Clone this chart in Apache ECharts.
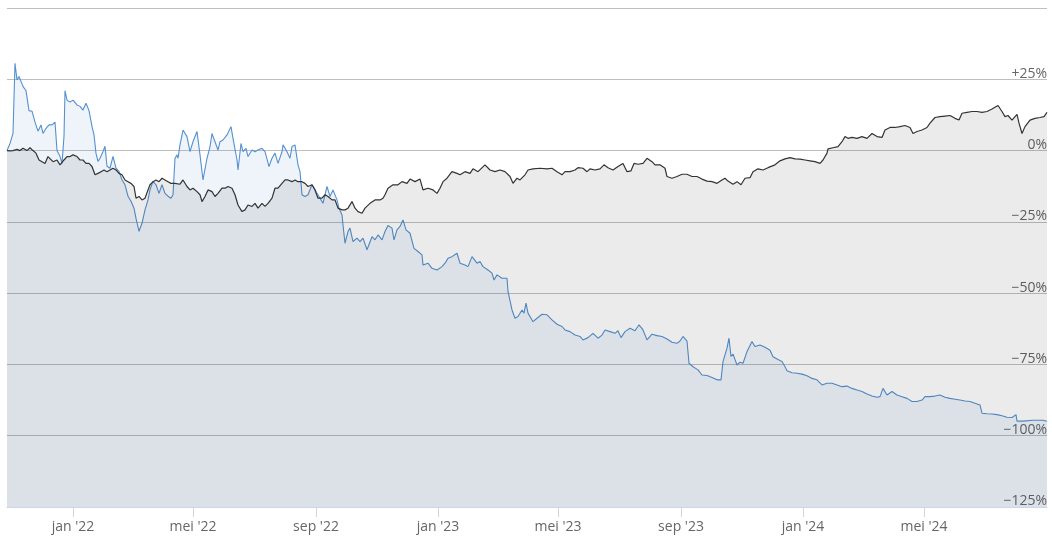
<!DOCTYPE html>
<html>
<head>
<meta charset="utf-8">
<script src="https://cdn.jsdelivr.net/npm/echarts@6/dist/echarts.min.js"></script>
<style>
  html, body { margin: 0; padding: 0; background: #fff; }
  #main { width: 1052px; height: 543px; }
</style>
</head>
<body>
<div id="main"></div>
<script>
// x-axis tick dates and their labels
const tickDates = ['2022-01-01', '2022-05-01', '2022-09-01', '2023-01-01', '2023-05-01', '2023-09-01', '2024-01-01', '2024-05-01'];
const tickLabels = ["jan '22", "mei '22", "sep '22", "jan '23", "mei '23", "sep '23", "jan '24", "mei '24"];
const dateRange = ['2021-10-27', '2024-09-01'];

// y-axis ticks (percent)
const yTicks = [50, 25, 0, -25, -50, -75, -100, -125];

// benchmark (dark line), relative return in %
const indexSeries = [
  ['2021-10-27', 0], ['2021-10-30', -0.1], ['2021-11-02', 0], ['2021-11-06', 0.4], ['2021-11-09', 0],
  ['2021-11-12', 0.8], ['2021-11-16', 0], ['2021-11-19', 1], ['2021-11-22', 0], ['2021-11-25', -0.9],
  ['2021-11-28', -3.3], ['2021-12-01', -3.9], ['2021-12-04', -4.5], ['2021-12-07', -2.1], ['2021-12-09', -1.5],
  ['2021-12-12', -3.9], ['2021-12-16', -3.3], ['2021-12-19', -5], ['2021-12-21', -5.6], ['2021-12-23', -3.3],
  ['2021-12-26', -2.1], ['2021-12-29', -2.1], ['2022-01-01', -1.5], ['2022-01-05', -2.1], ['2022-01-08', -3.3],
  ['2022-01-11', -3.3], ['2022-01-14', -4.5], ['2022-01-17', -4.5], ['2022-01-20', -5.6], ['2022-01-23', -8.5],
  ['2022-01-26', -8], ['2022-01-29', -7.4], ['2022-02-01', -6.8], ['2022-02-04', -7.4], ['2022-02-07', -6.8],
  ['2022-02-10', -6.2], ['2022-02-13', -6.8], ['2022-02-16', -8], ['2022-02-19', -8.5], ['2022-02-22', -10.3],
  ['2022-02-25', -10.9], ['2022-02-28', -11.5], ['2022-03-03', -12.6], ['2022-03-05', -16.7], ['2022-03-08', -16.1],
  ['2022-03-11', -17.3], ['2022-03-14', -16.7], ['2022-03-17', -13.8], ['2022-03-19', -12], ['2022-03-22', -10.9],
  ['2022-03-25', -10.3], ['2022-03-28', -10.9], ['2022-03-31', -9.7], ['2022-04-03', -10.3], ['2022-04-06', -10.9],
  ['2022-04-09', -11.5], ['2022-04-13', -11.5], ['2022-04-15', -11.5], ['2022-04-18', -11.8], ['2022-04-21', -10.3],
  ['2022-04-25', -12.6], ['2022-04-28', -13.8], ['2022-05-01', -13.2], ['2022-05-05', -14.4], ['2022-05-08', -15.5],
  ['2022-05-10', -17.9], ['2022-05-13', -16.1], ['2022-05-16', -13.8], ['2022-05-20', -14.4], ['2022-05-23', -16.1],
  ['2022-05-26', -15], ['2022-05-30', -13.2], ['2022-06-02', -13.2], ['2022-06-05', -12.6], ['2022-06-09', -13.2],
  ['2022-06-12', -15.5], ['2022-06-15', -19.1], ['2022-06-19', -21.4], ['2022-06-22', -20.8], ['2022-06-25', -19.1],
  ['2022-06-29', -19.6], ['2022-07-02', -18.5], ['2022-07-05', -20.2], ['2022-07-09', -18.5], ['2022-07-12', -19.6],
  ['2022-07-15', -18.5], ['2022-07-19', -16.7], ['2022-07-22', -13.2], ['2022-07-25', -13.2], ['2022-07-29', -11.5],
  ['2022-08-01', -10.3], ['2022-08-04', -10.3], ['2022-08-08', -10.9], ['2022-08-11', -10.3], ['2022-08-14', -10.9],
  ['2022-08-18', -10.9], ['2022-08-21', -11.5], ['2022-08-24', -12.6], ['2022-08-28', -12], ['2022-08-31', -13.8],
  ['2022-09-03', -16.7], ['2022-09-07', -16.7], ['2022-09-10', -15.5], ['2022-09-13', -16.1], ['2022-09-17', -17.3],
  ['2022-09-20', -17.3], ['2022-09-23', -20.2], ['2022-09-27', -20.8], ['2022-09-30', -20.8], ['2022-10-03', -20.2],
  ['2022-10-07', -17.9], ['2022-10-10', -20.2], ['2022-10-13', -21.4], ['2022-10-17', -22], ['2022-10-20', -20.2],
  ['2022-10-25', -18.5], ['2022-10-30', -17.3], ['2022-11-04', -17.3], ['2022-11-07', -16.7], ['2022-11-09', -15.5],
  ['2022-11-12', -13.2], ['2022-11-17', -12], ['2022-11-22', -12], ['2022-11-26', -10.9], ['2022-12-01', -11.5],
  ['2022-12-04', -10], ['2022-12-09', -10.9], ['2022-12-14', -10], ['2022-12-17', -13.8], ['2022-12-22', -13.2],
  ['2022-12-27', -13.8], ['2022-12-31', -15], ['2023-01-03', -13.2], ['2023-01-06', -10.9], ['2023-01-10', -9.7],
  ['2023-01-15', -7.4], ['2023-01-20', -8], ['2023-01-23', -8.5], ['2023-01-28', -7.4], ['2023-02-02', -8],
  ['2023-02-05', -6.4], ['2023-02-10', -7.4], ['2023-02-17', -5], ['2023-02-22', -6.8], ['2023-02-27', -7.4],
  ['2023-03-04', -6.8], ['2023-03-09', -7.4], ['2023-03-14', -9.1], ['2023-03-17', -11.5], ['2023-03-21', -9.7],
  ['2023-03-24', -10.3], ['2023-03-29', -8.5], ['2023-04-01', -6.8], ['2023-04-06', -6.4], ['2023-04-13', -6.2],
  ['2023-04-20', -6.4], ['2023-04-25', -6.2], ['2023-04-30', -7.4], ['2023-05-05', -8.5], ['2023-05-08', -7.4],
  ['2023-05-13', -7.4], ['2023-05-18', -6.8], ['2023-05-21', -6], ['2023-05-26', -6.2], ['2023-05-30', -7.4],
  ['2023-06-02', -6.4], ['2023-06-07', -6.8], ['2023-06-12', -6.4], ['2023-06-16', -5], ['2023-06-20', -6],
  ['2023-06-25', -6.8], ['2023-06-30', -5.6], ['2023-07-05', -4.5], ['2023-07-09', -7.4], ['2023-07-13', -7.1],
  ['2023-07-16', -4.5], ['2023-07-20', -4.8], ['2023-07-25', -4.5], ['2023-07-29', -2.7], ['2023-08-03', -3.9],
  ['2023-08-06', -5], ['2023-08-11', -5], ['2023-08-16', -6.2], ['2023-08-18', -9.1], ['2023-08-23', -9.7],
  ['2023-08-28', -9.1], ['2023-09-02', -8.3], ['2023-09-07', -8.3], ['2023-09-12', -9.1], ['2023-09-17', -9.1],
  ['2023-09-22', -10], ['2023-09-27', -10.7], ['2023-10-02', -10.9], ['2023-10-07', -11.5], ['2023-10-12', -10.3],
  ['2023-10-15', -9.7], ['2023-10-18', -10.7], ['2023-10-23', -11.8], ['2023-10-27', -10.9], ['2023-10-31', -12],
  ['2023-11-04', -9.7], ['2023-11-09', -9.5], ['2023-11-12', -7.4], ['2023-11-17', -6.4], ['2023-11-22', -6.8],
  ['2023-11-27', -6], ['2023-11-29', -5.3], ['2023-12-04', -5], ['2023-12-09', -3.6], ['2023-12-14', -2.9],
  ['2023-12-19', -2.5], ['2023-12-24', -2.9], ['2023-12-29', -3], ['2024-01-03', -3.3], ['2024-01-08', -3.6],
  ['2024-01-13', -3.9], ['2024-01-18', -4.5], ['2024-01-21', -3.3], ['2024-01-25', -0.9], ['2024-01-26', 0.6],
  ['2024-01-31', 1], ['2024-02-05', 1.4], ['2024-02-09', 3.1], ['2024-02-12', 4.9], ['2024-02-15', 4.3],
  ['2024-02-19', 4.6], ['2024-02-24', 4.3], ['2024-02-29', 4.9], ['2024-03-05', 4.3], ['2024-03-10', 6],
  ['2024-03-15', 4.9], ['2024-03-20', 4.6], ['2024-03-23', 7.2], ['2024-03-28', 8.1], ['2024-04-02', 8.1],
  ['2024-04-07', 8.4], ['2024-04-12', 8.8], ['2024-04-17', 8.1], ['2024-04-20', 6], ['2024-04-24', 6.7],
  ['2024-04-29', 7.2], ['2024-05-04', 8.1], ['2024-05-07', 9.6], ['2024-05-12', 11.6], ['2024-05-17', 11.9],
  ['2024-05-22', 12.1], ['2024-05-27', 12.3], ['2024-06-01', 11.3], ['2024-06-05', 10.7], ['2024-06-08', 13.1],
  ['2024-06-13', 13.4], ['2024-06-18', 13.7], ['2024-06-23', 13.7], ['2024-06-28', 13.4], ['2024-07-03', 13.7],
  ['2024-07-08', 14.6], ['2024-07-14', 15.8], ['2024-07-18', 13.7], ['2024-07-21', 11.9], ['2024-07-24', 12.3],
  ['2024-07-28', 10.7], ['2024-08-02', 12.7], ['2024-08-04', 9.6], ['2024-08-07', 6], ['2024-08-10', 8.4],
  ['2024-08-15', 10.7], ['2024-08-20', 11.3], ['2024-08-25', 11.6], ['2024-08-29', 11.9], ['2024-09-01', 13.4]
];

// fund (blue line), relative return in %
const fundSeries = [
  ['2021-10-27', 0], ['2021-10-30', 2.5], ['2021-11-02', 6], ['2021-11-04', 30.6], ['2021-11-06', 24.8],
  ['2021-11-08', 26], ['2021-11-10', 26], ['2021-11-12', 22.5], ['2021-11-15', 21], ['2021-11-18', 14],
  ['2021-11-21', 13.8], ['2021-11-24', 10], ['2021-11-27', 6.8], ['2021-11-30', 9], ['2021-12-02', 6],
  ['2021-12-05', 7.8], ['2021-12-08', 9], ['2021-12-11', 9], ['2021-12-14', 10], ['2021-12-16', 0],
  ['2021-12-19', -2], ['2021-12-21', -4.5], ['2021-12-23', 5], ['2021-12-24', 21], ['2021-12-26', 17.7],
  ['2021-12-29', 17], ['2022-01-01', 17.7], ['2022-01-05', 16], ['2022-01-08', 15.5], ['2022-01-11', 14.2],
  ['2022-01-14', 16.6], ['2022-01-17', 14], ['2022-01-20', 8.5], ['2022-01-22', 5.5], ['2022-01-24', -1],
  ['2022-01-26', -3.8], ['2022-01-28', -2.7], ['2022-01-31', -0.3], ['2022-02-02', 1.5], ['2022-02-04', -5.5],
  ['2022-02-07', -6.2], ['2022-02-10', -2], ['2022-02-13', -6.2], ['2022-02-16', -7.3], ['2022-02-19', -10.3],
  ['2022-02-22', -12], ['2022-02-25', -16], ['2022-02-28', -17.8], ['2022-03-03', -20.2], ['2022-03-05', -23.8],
  ['2022-03-08', -28.3], ['2022-03-11', -25.5], ['2022-03-14', -20.8], ['2022-03-17', -17.3], ['2022-03-19', -13.8],
  ['2022-03-22', -10.8], ['2022-03-25', -12], ['2022-03-28', -15], ['2022-03-31', -12], ['2022-04-03', -15],
  ['2022-04-06', -16], ['2022-04-09', -16.7], ['2022-04-11', -15.5], ['2022-04-13', -2.7], ['2022-04-15', -1.5],
  ['2022-04-16', -2.7], ['2022-04-18', 2], ['2022-04-21', 7.2], ['2022-04-25', 4.9], ['2022-04-28', -0.4],
  ['2022-05-01', 3.1], ['2022-05-05', 6.7], ['2022-05-08', -1.5], ['2022-05-11', -10.3], ['2022-05-15', -2.7],
  ['2022-05-18', 1.4], ['2022-05-20', 6], ['2022-05-23', 3.1], ['2022-05-26', 0.2], ['2022-05-28', 3.1],
  ['2022-05-31', 3.7], ['2022-06-04', 5.5], ['2022-06-08', 8.4], ['2022-06-10', 4.3], ['2022-06-14', -3.3],
  ['2022-06-15', -6.8], ['2022-06-18', 2.5], ['2022-06-20', -0.4], ['2022-06-23', 0.8], ['2022-06-25', -2.1],
  ['2022-06-29', 0.2], ['2022-07-02', -0.4], ['2022-07-05', 0.2], ['2022-07-09', 0.8], ['2022-07-12', -0.4],
  ['2022-07-16', -5.6], ['2022-07-19', -2.7], ['2022-07-22', -0.9], ['2022-07-25', -4.5], ['2022-07-29', -0.4],
  ['2022-07-30', 2], ['2022-08-03', -0.4], ['2022-08-06', -2.7], ['2022-08-08', 1.4], ['2022-08-11', 2],
  ['2022-08-14', -5], ['2022-08-16', -7.4], ['2022-08-18', -15.5], ['2022-08-21', -16.1], ['2022-08-24', -15.5],
  ['2022-08-28', -12], ['2022-09-02', -15], ['2022-09-05', -16.7], ['2022-09-08', -18.5], ['2022-09-12', -12.6],
  ['2022-09-15', -16.1], ['2022-09-18', -13.8], ['2022-09-22', -17.3], ['2022-09-24', -20.2], ['2022-09-27', -22.6],
  ['2022-09-28', -26.1], ['2022-09-30', -32.5], ['2022-10-03', -28.4], ['2022-10-05', -27.2], ['2022-10-08', -31.9],
  ['2022-10-12', -30.7], ['2022-10-15', -31.9], ['2022-10-18', -30.7], ['2022-10-22', -34.8], ['2022-10-27', -30.2],
  ['2022-10-30', -31.3], ['2022-11-02', -29.6], ['2022-11-06', -31.3], ['2022-11-09', -28.4], ['2022-11-12', -26.3],
  ['2022-11-16', -27.2], ['2022-11-18', -31.3], ['2022-11-21', -27.8], ['2022-11-24', -26.6], ['2022-11-27', -24.3],
  ['2022-11-30', -27.8], ['2022-12-04', -29], ['2022-12-08', -34.3], ['2022-12-12', -35.4], ['2022-12-16', -36.6],
  ['2022-12-17', -40.1], ['2022-12-22', -39.5], ['2022-12-26', -41.3], ['2022-12-31', -41.9], ['2023-01-05', -40.7],
  ['2023-01-08', -39.5], ['2023-01-11', -37.8], ['2023-01-15', -37.2], ['2023-01-20', -36], ['2023-01-23', -39.5],
  ['2023-01-28', -40.1], ['2023-01-31', -40.7], ['2023-02-04', -37.2], ['2023-02-09', -39.5], ['2023-02-12', -38.9],
  ['2023-02-15', -40.7], ['2023-02-20', -41.9], ['2023-02-24', -43], ['2023-02-26', -45.4], ['2023-03-01', -43.6],
  ['2023-03-06', -44.8], ['2023-03-11', -44.8], ['2023-03-12', -49.4], ['2023-03-16', -55.9], ['2023-03-19', -58.8],
  ['2023-03-22', -58.2], ['2023-03-26', -55.9], ['2023-03-28', -57], ['2023-03-30', -53.5], ['2023-04-01', -57],
  ['2023-04-06', -60], ['2023-04-10', -58.8], ['2023-04-15', -57.4], ['2023-04-20', -57.6], ['2023-04-25', -59.4],
  ['2023-04-30', -60.9], ['2023-05-05', -61.7], ['2023-05-08', -62.9], ['2023-05-13', -63.5], ['2023-05-18', -64.7],
  ['2023-05-23', -65.2], ['2023-05-26', -66.4], ['2023-05-31', -65.6], ['2023-06-05', -64.1], ['2023-06-10', -65.8],
  ['2023-06-14', -64.7], ['2023-06-17', -62.9], ['2023-06-22', -63.5], ['2023-06-27', -64.1], ['2023-06-30', -63.2],
  ['2023-07-03', -65.6], ['2023-07-07', -63.5], ['2023-07-12', -62.3], ['2023-07-17', -63.2], ['2023-07-21', -61.1],
  ['2023-07-25', -62.9], ['2023-07-29', -66.4], ['2023-08-03', -64.4], ['2023-08-08', -64.9], ['2023-08-13', -65.2],
  ['2023-08-18', -66.1], ['2023-08-23', -67.2], ['2023-08-28', -67.6], ['2023-08-31', -66.8], ['2023-09-03', -65.2],
  ['2023-09-07', -66.8], ['2023-09-09', -74.6], ['2023-09-13', -75.8], ['2023-09-18', -76.9], ['2023-09-22', -78.7],
  ['2023-09-27', -78.9], ['2023-10-02', -79.6], ['2023-10-07', -80.4], ['2023-10-11', -80.4], ['2023-10-13', -74],
  ['2023-10-17', -69.3], ['2023-10-19', -65.8], ['2023-10-21', -72.2], ['2023-10-23', -71.4], ['2023-10-27', -75.2],
  ['2023-10-30', -74.2], ['2023-11-02', -74.6], ['2023-11-06', -70.5], ['2023-11-11', -67], ['2023-11-14', -68.7],
  ['2023-11-19', -68.2], ['2023-11-24', -69], ['2023-11-29', -70], ['2023-12-02', -72.3], ['2023-12-07', -73.3],
  ['2023-12-11', -74], ['2023-12-14', -75.8], ['2023-12-16', -77.2], ['2023-12-21', -77.9], ['2023-12-26', -78.1],
  ['2023-12-31', -78.4], ['2024-01-05', -79], ['2024-01-10', -79.9], ['2024-01-15', -80.4], ['2024-01-20', -82.2],
  ['2024-01-25', -81.6], ['2024-01-30', -81.6], ['2024-02-04', -82.2], ['2024-02-09', -82.8], ['2024-02-14', -82.6],
  ['2024-02-19', -83.4], ['2024-02-24', -84], ['2024-02-29', -84.5], ['2024-03-05', -85.4], ['2024-03-10', -86.1],
  ['2024-03-15', -86.5], ['2024-03-18', -86.3], ['2024-03-21', -83.4], ['2024-03-25', -85.7], ['2024-03-30', -84.5],
  ['2024-04-04', -85.7], ['2024-04-09', -86.3], ['2024-04-14', -86.9], ['2024-04-19', -88], ['2024-04-24', -88],
  ['2024-04-29', -87.5], ['2024-05-02', -86.3], ['2024-05-07', -86.3], ['2024-05-12', -86.1], ['2024-05-17', -85.7],
  ['2024-05-22', -86.5], ['2024-05-27', -86.9], ['2024-06-01', -87.2], ['2024-06-06', -87.5], ['2024-06-11', -87.8],
  ['2024-06-16', -88], ['2024-06-21', -88.6], ['2024-06-26', -89.2], ['2024-06-28', -92.1], ['2024-07-03', -92.3],
  ['2024-07-08', -92.4], ['2024-07-13', -92.6], ['2024-07-18', -93], ['2024-07-23', -93.5], ['2024-07-28', -93.6],
  ['2024-08-01', -92.6], ['2024-08-02', -94.9], ['2024-08-08', -94.9], ['2024-08-18', -94.6], ['2024-08-28', -94.6],
  ['2024-09-01', -94.9]
];

const myChart = echarts.init(document.querySelector('#main'));

const toTime = d => Date.parse(d + 'T00:00:00Z');
const toPoints = rows => rows.map(r => [toTime(r[0]), r[1]]);
const tickTimes = tickDates.map(toTime);
const labelOf = {};
tickTimes.forEach((t, i) => { labelOf[t] = tickLabels[i]; });

const option = {
  animation: false,
  textStyle: { fontFamily: 'Open Sans' },
  grid: { left: 7, right: 5, top: 8, bottom: 36 },
  xAxis: {
    type: 'value',
    min: toTime(dateRange[0]),
    max: toTime(dateRange[1]),
    axisLine: { show: true, onZero: false, lineStyle: { color: '#ccd6eb', width: 1 } },
    axisTick: { show: true, length: 10, lineStyle: { color: '#ccd6eb' }, customValues: tickTimes },
    axisLabel: {
      customValues: tickTimes,
      formatter: v => labelOf[v] || '',
      color: '#666666',
      fontSize: 14,
      margin: 13
    },
    splitLine: { show: false }
  },
  yAxis: {
    type: 'value',
    position: 'right',
    min: -125,
    max: 50,
    interval: 25,
    axisLine: { show: false },
    axisTick: { show: false },
    axisLabel: {
      inside: true,
      margin: 0,
      color: '#666666',
      fontSize: 14,
      lineHeight: 11,
      verticalAlign: 'bottom',
      formatter: v => {
        if (v === yTicks[0]) return '';
        if (v > 0) return '+' + v + '%';
        if (v < 0) return '\u2212' + Math.abs(v) + '%';
        return '0%';
      }
    },
    splitLine: { show: true, lineStyle: { color: '#bfbfbf', width: 1 } }
  },
  series: [
    {
      name: 'fonds',
      type: 'line',
      data: toPoints(fundSeries),
      showSymbol: false,
      lineStyle: { color: '#5591cf', width: 1.1 },
      itemStyle: { color: '#5591cf' },
      areaStyle: { color: 'rgba(70,130,200,0.09)', opacity: 1, origin: 'start' },
      z: 2
    },
    {
      name: 'index',
      type: 'line',
      data: toPoints(indexSeries),
      showSymbol: false,
      lineStyle: { color: '#333333', width: 1.2 },
      itemStyle: { color: '#333333' },
      areaStyle: { color: 'rgba(0,0,0,0.08)', opacity: 1, origin: 'start' },
      z: 3
    }
  ]
};

myChart.setOption(option);
</script>
</body>
</html>
